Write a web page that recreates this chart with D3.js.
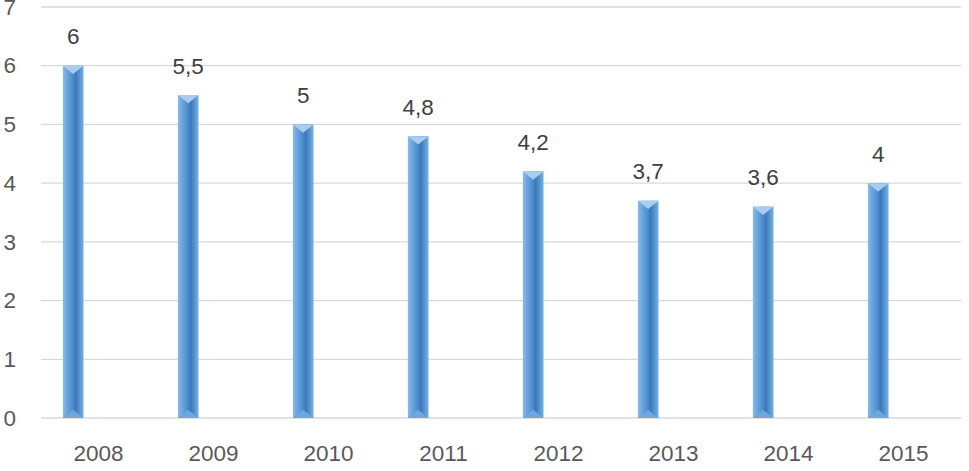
<!DOCTYPE html>
<html><head><meta charset="utf-8">
<script src="https://cdn.jsdelivr.net/npm/d3@7"></script>
<style>body{margin:0;background:#fff}svg{display:block}</style>
</head><body>
<svg id="c" width="969" height="471"></svg>
<script>
const years = ["2008","2009","2010","2011","2012","2013","2014","2015"];
const values = [6, 5.5, 5, 4.8, 4.2, 3.7, 3.6, 4];
const valueLabels = ["6","5,5","5","4,8","4,2","3,7","3,6","4"];
const yTicks = [0,1,2,3,4,5,6,7];

const svg = d3.select("#c");
const x = d3.scaleBand().domain(years).range([41, 961]).paddingInner(0).paddingOuter(0);
const y = d3.scaleLinear().domain([0, 7]).range([418, 7]);
const font = "'Liberation Sans', Arial, sans-serif";
const fs = 22.5;

const defs = svg.append("defs");
const g = defs.append("linearGradient").attr("id","bg").attr("x1","0").attr("x2","1").attr("y1","0").attr("y2","0");
[[0,"#8dbbe8"],[0.18,"#6ea8e0"],[0.45,"#4f8fd0"],[0.62,"#3c78b8"],[0.85,"#5b9bd5"],[1,"#7fb0e2"]].forEach(s=>g.append("stop").attr("offset",s[0]).attr("stop-color",s[1]));

// gridlines
svg.append("g").selectAll("line").data(yTicks).join("line")
  .attr("x1",41).attr("x2",961).attr("y1",d=>y(d)).attr("y2",d=>y(d))
  .attr("stroke","#d9d9d9").attr("stroke-width",1.3);

// y axis labels
const yAxis = d3.axisLeft(y).tickValues(yTicks).tickSize(0).tickPadding(0).tickFormat(d3.format("d"));
const ya = svg.append("g").attr("transform","translate(16,0)").call(yAxis);
ya.select(".domain").remove();
ya.selectAll("text").attr("font-family",font).attr("font-size",fs).attr("fill","#595959");

// x axis labels
const xAxis = d3.axisBottom(x).tickSize(0).tickPadding(0);
const xa = svg.append("g").attr("transform","translate(0,445)").call(xAxis);
xa.select(".domain").remove();
xa.selectAll("text").attr("font-family",font).attr("font-size",fs).attr("fill","#595959").attr("dy","0.71em");

const bw = x.bandwidth()*0.18;
const bx = d => x(d) + x.bandwidth()*0.19;
const data = years.map((yr,i)=>({yr, v:values[i], l:valueLabels[i]}));

const bars = svg.append("g").selectAll("g").data(data).join("g");
bars.append("rect").attr("x",d=>bx(d.yr)).attr("y",d=>y(d.v)).attr("width",bw).attr("height",d=>y(0)-y(d.v)).attr("fill","url(#bg)");
// top bevel
bars.append("path").attr("d",d=>{const x0=bx(d.yr), t=y(d.v); return `M${x0},${t}L${x0+bw},${t}L${x0+bw/2},${t+bw*0.4}Z`;}).attr("fill","#a9cdf0");
// bottom bevel
bars.append("path").attr("d",d=>{const x0=bx(d.yr), b=y(0); return `M${x0},${b}L${x0+bw},${b}L${x0+bw/2},${b-bw*0.4}Z`;}).attr("fill","#6fa6dc");

// value labels
svg.append("g").selectAll("text").data(data).join("text")
  .attr("x",d=>bx(d.yr)+bw/2).attr("y",d=>y(d.v)-21.5).attr("text-anchor","middle")
  .attr("font-family",font).attr("font-size",fs).attr("fill","#404040").text(d=>d.l);
</script>
</body></html>
